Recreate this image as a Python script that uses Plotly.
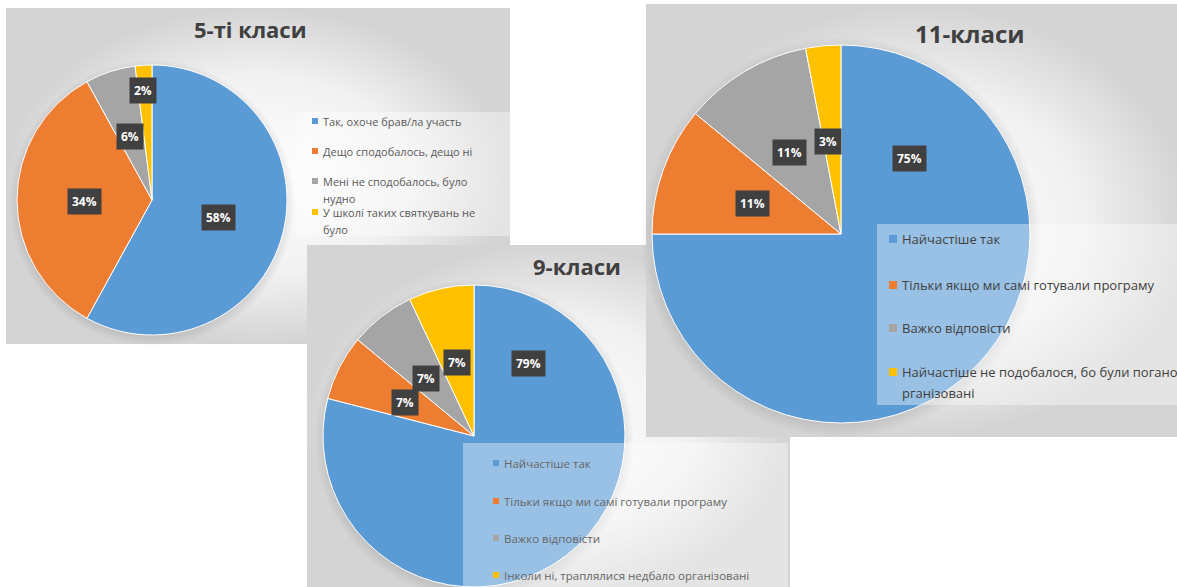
import numpy as np
import plotly.graph_objects as go

W, H = 1177, 587

# Office palette used by all three charts
colors = ["#5B9BD5", "#ED7D31", "#A5A5A5", "#FFC000"]

# --- data -------------------------------------------------------------
title5 = "5-ті класи"
labels5 = ["Так, охоче брав/ла участь", "Дещо сподобалось, дещо ні",
           "Мені не сподобалось, було нудно", "У школі таких святкувань не було"]
values5 = [58, 34, 6, 2]
legend5 = ["Так, охоче брав/ла участь", "Дещо сподобалось, дещо ні",
           "Мені не сподобалось, було<br>нудно", "У школі таких святкувань не<br>було"]

title9 = "9-класи"
labels9 = ["Найчастіше так", "Тільки якщо ми самі готували програму",
           "Важко відповісти", "Інколи ні, траплялися недбало організовані"]
values9 = [79, 7, 7, 7]
legend9 = labels9

title11 = "11-класи"
labels11 = ["Найчастіше так", "Тільки якщо ми самі готували програму",
            "Важко відповісти", "Найчастіше не подобалося, бо були погано організовані"]
values11 = [75, 11, 11, 3]
legend11 = ["Найчастіше так", "Тільки якщо ми самі готували програму",
            "Важко відповісти", "Найчастіше не подобалося, бо були погано о<br>рганізовані"]

# --- layout of the three pasted panels (pixels) ------------------------
panels = [
    dict(title=title5, labels=labels5, values=values5, legend=legend5,
         box=(6, 8, 510, 344), cx=152, cy=200, r=135,
         title_xy=(250, 29), title_size=22,
         leg_box=(297, 112, 510, 236), leg_x=312, leg_y=[121, 151, 181, 212],
         leg_line=17, leg_size=11, leg_color="#595959", sq=6,
         lab=[(0.49, 0.13), (-0.50, 0.01), (-0.16, -0.47), (-0.07, -0.81)]),
    dict(title=title9, labels=labels9, values=values9, legend=legend9,
         box=(307, 245, 790, 600), cx=474, cy=436, r=151,
         title_xy=(577, 266), title_size=22,
         leg_box=(463, 443, 788, 600), leg_x=493, leg_y=[463, 501, 538, 575],
         leg_line=17, leg_size=11.5, leg_color="#666666", sq=6,
         lab=[(0.36, -0.48), (-0.46, -0.22), (-0.32, -0.38), (-0.11, -0.49)]),
    dict(title=title11, labels=labels11, values=values11, legend=legend11,
         box=(646, 4, 1190, 437), cx=841, cy=234, r=189,
         title_xy=(970, 33), title_size=24,
         leg_box=(877, 224, 1190, 405), leg_x=889, leg_y=[239, 285, 328, 372],
         leg_line=21, leg_size=13, leg_color="#404040", sq=8,
         lab=[(0.36, -0.40), (-0.47, -0.16), (-0.27, -0.43), (-0.07, -0.49)]),
]

FONT = "Open Sans"

fig = go.Figure()
shapes = []
annotations = []

for p in panels:
    x0, y0, x1, y1 = p["box"]
    # panel background with soft radial shading
    fig.add_trace(go.Scatter(
        x=[x0, x1, x1, x0, x0], y=[y0, y0, y1, y1, y0],
        mode="lines", line=dict(width=0), fill="toself",
        fillgradient=dict(type="radial",
                          colorscale=[[0, "#ffffff"], [0.6, "#f1f1f1"], [1, "#d4d4d4"]]),
        hoverinfo="skip", showlegend=False))

    # blurred shadow under the pie
    t = np.linspace(0, 2 * np.pi, 180)
    rs = p["r"] * 1.06
    fig.add_trace(go.Scatter(
        x=p["cx"] + rs * np.cos(t), y=p["cy"] + 3 + rs * np.sin(t),
        mode="lines", line=dict(width=0), fill="toself",
        fillgradient=dict(type="radial",
                          colorscale=[[0, "rgba(0,0,0,0.2)"], [0.9, "rgba(0,0,0,0.14)"],
                                      [1, "rgba(0,0,0,0)"]]),
        hoverinfo="skip", showlegend=False))

    cx, cy, r = p["cx"], p["cy"], p["r"]
    fig.add_trace(go.Pie(
        labels=p["labels"], values=p["values"],
        sort=False, direction="clockwise", rotation=0,
        marker=dict(colors=colors, line=dict(color="white", width=1)),
        textinfo="none", showlegend=False,
        domain=dict(x=[(cx - r) / W, (cx + r) / W],
                    y=[max(0, (H - (cy + r)) / H), min(1, (H - (cy - r)) / H)])))

    # title
    annotations.append(dict(
        x=p["title_xy"][0], y=p["title_xy"][1], xref="x", yref="y",
        text="<b>%s</b>" % p["title"], showarrow=False,
        font=dict(family=FONT, size=p["title_size"], color="#404040")))

    # percentage labels in dark boxes
    total = sum(p["values"])
    for v, (dx, dy) in zip(p["values"], p["lab"]):
        annotations.append(dict(
            x=cx + dx * r, y=cy + dy * r, xref="x", yref="y",
            text="<b>%d%%</b>" % round(v / total * 100), showarrow=False,
            bgcolor="#404040", borderpad=4,
            font=dict(family=FONT, size=12, color="white")))

    # legend box
    lx0, ly0, lx1, ly1 = p["leg_box"]
    shapes.append(dict(type="rect", xref="x", yref="y", layer="above",
                       x0=lx0, y0=ly0, x1=lx1, y1=ly1,
                       fillcolor="rgba(255,255,255,0.38)", line=dict(width=0)))
    sq = p["sq"]
    for txt, col, ly in zip(p["legend"], colors, p["leg_y"]):
        shapes.append(dict(type="rect", xref="x", yref="y", layer="above",
                           x0=p["leg_x"], x1=p["leg_x"] + sq,
                           y0=ly - sq / 2, y1=ly + sq / 2,
                           fillcolor=col, line=dict(width=0)))
        for k, line in enumerate(txt.split("<br>")):
            annotations.append(dict(
                x=p["leg_x"] + sq + 3, y=ly + k * p["leg_line"], xref="x", yref="y",
                text=line, showarrow=False, xanchor="left", yanchor="middle",
                font=dict(family=FONT, size=p["leg_size"], color=p["leg_color"])))

fig.update_layout(
    width=W, height=H,
    margin=dict(l=0, r=0, t=0, b=0),
    paper_bgcolor="white", plot_bgcolor="white",
    xaxis=dict(range=[0, W], visible=False, fixedrange=True),
    yaxis=dict(range=[H, 0], visible=False, fixedrange=True),
    shapes=shapes, annotations=annotations,
    showlegend=False,
)

# drop the default page margin so the figure fills the window exactly
fig.write_html("out.html", config={"displayModeBar": False},
               post_script="document.body.style.margin='0';document.body.style.overflow='hidden';")
